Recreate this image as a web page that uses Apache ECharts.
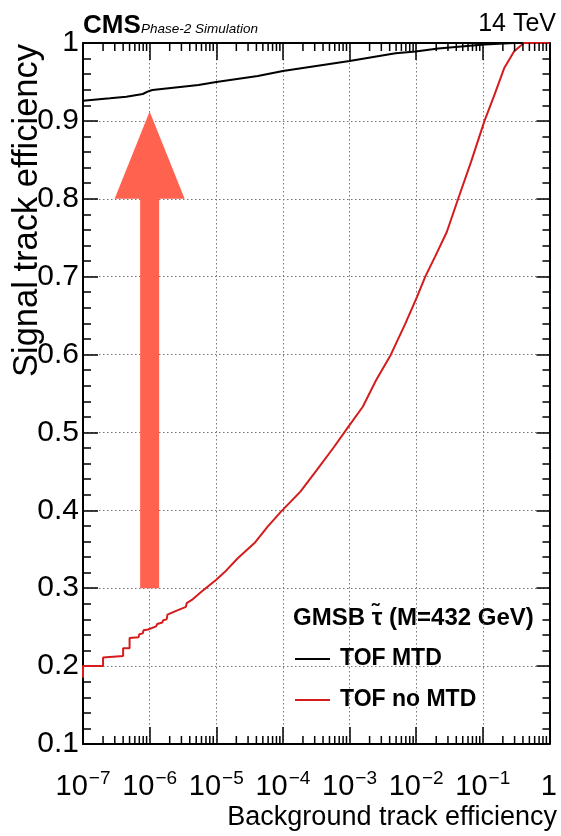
<!DOCTYPE html>
<html>
<head>
<meta charset="utf-8">
<script src="https://cdn.jsdelivr.net/npm/echarts@6/dist/echarts.min.js"></script>
<style>html,body{margin:0;padding:0;background:#fff}#c{width:561px;height:836px}</style>
</head>
<body>
<div id="c"></div>
<script>
// ---- data ----
var X_DECADES = [-7, -6, -5, -4, -3, -2, -1, 0];
var Y_TICKS = [0.1, 0.2, 0.3, 0.4, 0.5, 0.6, 0.7, 0.8, 0.9, 1.0];

var BLACK_X = [1e-7, 2.54e-7, 4.47e-7, 7.9e-7, 9.3e-7, 1.1e-6, 2.45e-6, 5.4e-6, 1e-5, 4.2e-5, 1e-4, 1e-3, 4.9e-3, 9.8e-3, 2.14e-2, 0.106, 0.294, 1];
var BLACK_Y = [0.926, 0.929, 0.931, 0.9345, 0.9375, 0.9397, 0.943, 0.946, 0.950, 0.9576, 0.964, 0.977, 0.9868, 0.989, 0.993, 0.998, 1.0, 1.0];

var RED_X = [1e-7, 1e-7, 2.0e-7, 2.0e-7, 4.0e-7, 4.0e-7, 5.0e-7, 5.0e-7, 6.8e-7, 7.0e-7, 7.9e-7, 8.1e-7, 9.5e-7, 1.0e-6,
  1.25e-6, 1.3e-6, 1.55e-6, 1.6e-6, 1.8e-6, 1.85e-6, 2.5e-6, 3.5e-6, 3.6e-6, 4.3e-6, 6.1e-6,
  1.0e-5, 1.35e-5, 2.1e-5, 3.75e-5, 5.9e-5, 9.3e-5, 1.83e-4, 3.24e-4, 5.7e-4, 9e-4,
  1.58e-3, 2.5e-3, 4.15e-3, 6.9e-3, 1.03e-2, 1.37e-2, 1.93e-2, 2.87e-2, 4.27e-2, 6.7e-2,
  0.106, 0.149, 0.209, 0.294, 0.413, 1];
var RED_Y = [0.185, 0.200, 0.200, 0.211, 0.213, 0.223, 0.223, 0.236, 0.237, 0.241, 0.242, 0.246, 0.247, 0.249,
  0.251, 0.254, 0.256, 0.259, 0.260, 0.266, 0.271, 0.276, 0.281, 0.285, 0.296,
  0.311, 0.321, 0.3385, 0.358, 0.379, 0.398, 0.424, 0.452, 0.480, 0.504,
  0.533, 0.567, 0.5995, 0.640, 0.674, 0.700, 0.726, 0.757, 0.800, 0.848,
  0.900, 0.933, 0.9675, 0.989, 1.0, 1.0];

// arrow annotation: x, y bottom, y base of head, y tip
var ARROW = [[1e-6, 0.30, 0.80, 0.912]];

var SERIES_NAMES = ['TOF MTD', 'TOF no MTD'];
var LEGEND_HEADER = 'GMSB \u03C4\u0303 (M=432 GeV)';

// minor tick values on the log axis (2..9 of each decade)
var MINOR_X = [];
for (var d = -7; d < 0; d++) { for (var m = 2; m <= 9; m++) { MINOR_X.push([m * Math.pow(10, d), 0.1]); } }

var FONT = 'Liberation Sans, Arial, Helvetica, sans-serif';

function zip(a, b) { return a.map(function (v, i) { return [v, b[i]]; }); }

var chart = echarts.init(document.getElementById('c'), null, { renderer: 'canvas' });

var option = {
  animation: false,
  backgroundColor: '#fff',
  grid: { left: 83, right: 5, top: 43, bottom: 92 },
  xAxis: [{
    type: 'log', logBase: 10, min: 1e-7, max: 1, splitNumber: 7, position: 'bottom',
    axisLine: { show: true, onZero: false, lineStyle: { color: '#000', width: 2 } },
    axisTick: { show: true, inside: true, length: 17, lineStyle: { color: '#000', width: 1.5 } },
    minorTick: { show: false },
    splitLine: { show: true, lineStyle: { color: '#777', width: 1, type: [1.5, 2.5] } },
    axisLabel: {
      margin: 25, color: '#000', fontFamily: FONT,
      formatter: function (v) {
        var n = Math.round(Math.log(v) / Math.LN10);
        if (n === 0) return '{a|1}{e|\u200b}';
        return '{a|10}{e|\u2212' + Math.abs(n) + '}';
      },
      rich: {
        a: { fontSize: 29, fontFamily: FONT, color: '#000' },
        e: { fontSize: 19, fontFamily: FONT, color: '#000', padding: [0, 0, 16, 1] }
      }
    }
  }, {
    type: 'log', logBase: 10, min: 1e-7, max: 1, splitNumber: 7, position: 'top',
    axisLine: { show: true, onZero: false, lineStyle: { color: '#000', width: 2 } },
    axisTick: { show: true, inside: true, length: 17, lineStyle: { color: '#000', width: 1.5 } },
    splitLine: { show: false }, axisLabel: { show: false }
  }],
  yAxis: [{
    type: 'value', min: 0.1, max: 1, interval: 0.1, position: 'left',
    axisLine: { show: true, onZero: false, lineStyle: { color: '#000', width: 2 } },
    axisTick: { show: true, inside: true, length: 15, lineStyle: { color: '#000', width: 1.5 } },
    minorTick: { show: true, splitNumber: 5, length: 8, lineStyle: { color: '#000', width: 1.5 } },
    splitLine: { show: true, lineStyle: { color: '#777', width: 1, type: [1.5, 2.5] } },
    axisLabel: {
      margin: 4, color: '#000', fontSize: 30, fontFamily: FONT, padding: [6, 0, 0, 0],
      formatter: function (v) { var r = Math.round(v * 10) / 10; return r === 1 ? '1' : r.toFixed(1); }
    }
  }, {
    type: 'value', min: 0.1, max: 1, interval: 0.1, position: 'right',
    axisLine: { show: true, onZero: false, lineStyle: { color: '#000', width: 2 } },
    axisTick: { show: true, inside: true, length: 13, lineStyle: { color: '#000', width: 1.5 } },
    minorTick: { show: true, splitNumber: 5, length: 7, lineStyle: { color: '#000', width: 1.5 } },
    splitLine: { show: false }, axisLabel: { show: false }
  }],
  legend: {
    data: SERIES_NAMES, orient: 'vertical', left: 295, top: 646, padding: 0,
    icon: 'rect', itemWidth: 35, itemHeight: 2, itemGap: 15,
    textStyle: { fontSize: 23, fontWeight: 'bold', fontFamily: FONT, color: '#000', lineHeight: 26, padding: [0, 0, 0, 5] }
  },
  graphic: [
    { type: 'text', left: 83, top: 13, style: { text: 'CMS', font: 'bold 26px ' + FONT, fill: '#000' } },
    { type: 'text', left: 141, top: 22, style: { text: 'Phase-2 Simulation', font: 'italic 13.5px ' + FONT, fill: '#000' } },
    { type: 'text', right: 5, top: 12, style: { text: '14 TeV', font: '25px ' + FONT, fill: '#000' } },
    { type: 'text', left: 293, top: 606, style: { text: LEGEND_HEADER, font: 'bold 24px ' + FONT, fill: '#000' } },
    { type: 'text', x: 557, y: 818, style: { text: 'Background track efficiency', font: '27px ' + FONT, fill: '#000', align: 'right', verticalAlign: 'middle' } },
    { type: 'text', x: 27, y: 44, rotation: Math.PI / 2, style: { text: 'Signal track efficiency', font: '34.5px ' + FONT, fill: '#000', align: 'right', verticalAlign: 'middle' } }
  ],
  series: [{
    name: 'minor', type: 'custom', xAxisIndex: 0, yAxisIndex: 0, silent: true, clip: false, z: 5,
    data: MINOR_X,
    renderItem: function (params, api) {
      var b = api.coord([api.value(0), 0.1]);
      var t = api.coord([api.value(0), 1.0]);
      var st = { stroke: '#000', lineWidth: 1.5 };
      return { type: 'group', children: [
        { type: 'line', shape: { x1: b[0], y1: b[1], x2: b[0], y2: b[1] - 8 }, style: st },
        { type: 'line', shape: { x1: t[0], y1: t[1], x2: t[0], y2: t[1] + 8 }, style: st }
      ] };
    }
  }, {
    name: 'arrow', type: 'custom', xAxisIndex: 0, yAxisIndex: 0, silent: true, clip: false, z: 3,
    data: ARROW,
    renderItem: function (params, api) {
      var x = api.value(0);
      var p0 = api.coord([x, api.value(1)]);
      var p1 = api.coord([x, api.value(2)]);
      var p2 = api.coord([x, api.value(3)]);
      var hw = 9.5, hh = 35;
      var col = '#ff6350';
      return { type: 'group', children: [
        { type: 'rect', shape: { x: p0[0] - hw, y: p1[1] - 1, width: 2 * hw, height: p0[1] - p1[1] + 1 }, style: { fill: col } },
        { type: 'polygon', shape: { points: [[p1[0] - hh, p1[1]], [p1[0] + hh, p1[1]], [p2[0], p2[1]]] }, style: { fill: col } }
      ] };
    }
  }, {
    name: SERIES_NAMES[0], type: 'line', data: zip(BLACK_X, BLACK_Y), showSymbol: false, symbol: 'none', clip: false, z: 4,
    itemStyle: { color: '#000' }, lineStyle: { color: '#000', width: 2 }
  }, {
    name: SERIES_NAMES[1], type: 'line', data: zip(RED_X, RED_Y), showSymbol: false, symbol: 'none', clip: false, z: 4,
    itemStyle: { color: '#d41c1c' }, lineStyle: { color: '#d41c1c', width: 2 }
  }]
};
chart.setOption(option);
</script>
</body>
</html>
